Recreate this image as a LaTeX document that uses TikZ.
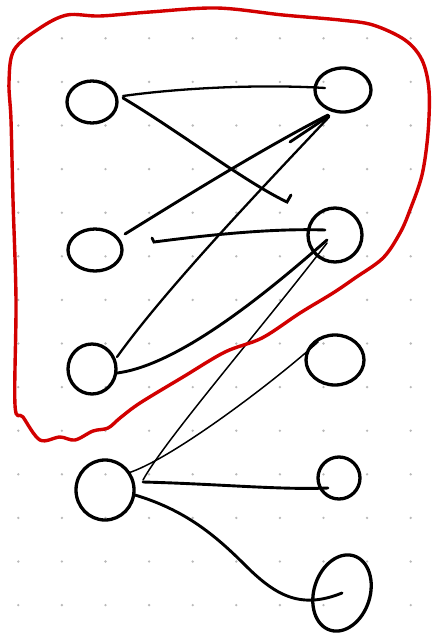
\documentclass[tikz,border=0pt]{standalone}
\usetikzlibrary{shapes.geometric,calc}
\definecolor{penred}{RGB}{210,0,0}
\definecolor{dotgray}{RGB}{185,185,185}
\begin{document}
\begin{tikzpicture}[x=1pt,y=-1pt,
  hand/.style={ellipse,draw=black,line width=3.3pt,inner sep=0pt},
  thick edge/.style={draw=black,line width=2.9pt,line cap=round},
  mid edge/.style={draw=black,line width=2.3pt,line cap=round},
  thin edge/.style={draw=black,line width=1.5pt,line cap=round},
  redline/.style={draw=penred,line width=3.4pt,line cap=round,line join=round}]
\useasboundingbox (0,0) rectangle (434,637);
\fill[white] (0,0) rectangle (434,637);
% dotted grid
\foreach \i in {0,...,9}{\foreach \j in {0,...,13}{
  \fill[dotgray] (18.3+43.6*\i,38.3+43.6*\j) circle (1.3);}}
% nodes
\node[hand,minimum width=50,minimum height=42] (L1) at (92,102) {};
\node[hand,minimum width=54,minimum height=42] (L2) at (95,250) {};
\node[hand,minimum width=48,minimum height=50] (L3) at (92,369) {};
\node[hand,minimum width=58,minimum height=60] (L4) at (105,490) {};
\node[hand,minimum width=56,minimum height=44] (R1) at (343,90) {};
\node[hand,minimum width=54,minimum height=54] (R2) at (335,235) {};
\node[hand,minimum width=58,minimum height=50] (R3) at (335,360) {};
\node[hand,minimum width=42,minimum height=42] (R4) at (339,478) {};
\node[hand,minimum width=56,minimum height=78,rotate=-18] (R5) at (342,593) {};
% free ends
\coordinate (hookend) at (290,200);
\coordinate (scribble) at (290,142);
% edges
\draw[mid edge] ($(L1)+(31,-6)$) .. controls (180,88) and (260,84) .. ($(R1)+(-18,-2)$);
\draw[thick edge] ($(L1)+(31,-4)$) .. controls (180,132) and (245,182) .. ($(hookend)+(-3,2)$) -- ($(hookend)+(1,-5)$);
\draw[thick edge] ($(L2)+(30,-16)$) .. controls (180,200) and (260,150) .. ($(R1)+(-15,25)$);
\draw[thick edge] (scribble) -- ($(R1)+(-14,26)$);
\draw[mid edge] ($(L3)+(25,-12)$) .. controls (165,290) and (260,190) .. ($(R1)+(-14,27)$);
\draw[thick edge] ($(L2)+(57,-12)$) -- ($(L2)+(59,-8)$) .. controls (200,236) and (270,228) .. ($(R2)+(-10,-5)$);
\draw[thick edge] ($(L3)+(25,4)$) .. controls (180,365) and (270,290) .. ($(R2)+(-8,5)$);
\draw[thin edge] ($(L4)+(38,-10)$) .. controls (165,440) and (260,330) .. ($(R2)+(-8,8)$);
\draw[thin edge] ($(L4)+(23,-17)$) .. controls (170,460) and (270,385) .. ($(R3)+(-17,-18)$);
\draw[thick edge] ($(L4)+(38,-8)$) .. controls (220,484) and (280,490) .. ($(R4)+(-11,10)$);
\draw[thick edge] ($(L4)+(30,5)$) .. controls (185,510) and (215,535) .. (245,565)
   .. controls (275,595) and (300,610) .. ($(R5)+(0,0)$);
% red enclosure
\draw[redline] plot[smooth cycle,tension=0.55] coordinates {
 (9,82) (14,50) (40,28) (67,15) (100,16) (150,12) (217,8) (283,15) (340,20)
 (373,25) (405,40) (422,60) (429,90) (428,133) (422,175) (410,210) (400,233)
 (383,258) (355,278) (333,293) (300,313) (262,338) (225,352) (183,377)
 (140,403) (120,418) (108,428) (93,431) (75,440) (60,437) (40,440) (23,417)
 (15,405) (16,300) (13,200) (11,120)};
\end{tikzpicture}
\end{document}
